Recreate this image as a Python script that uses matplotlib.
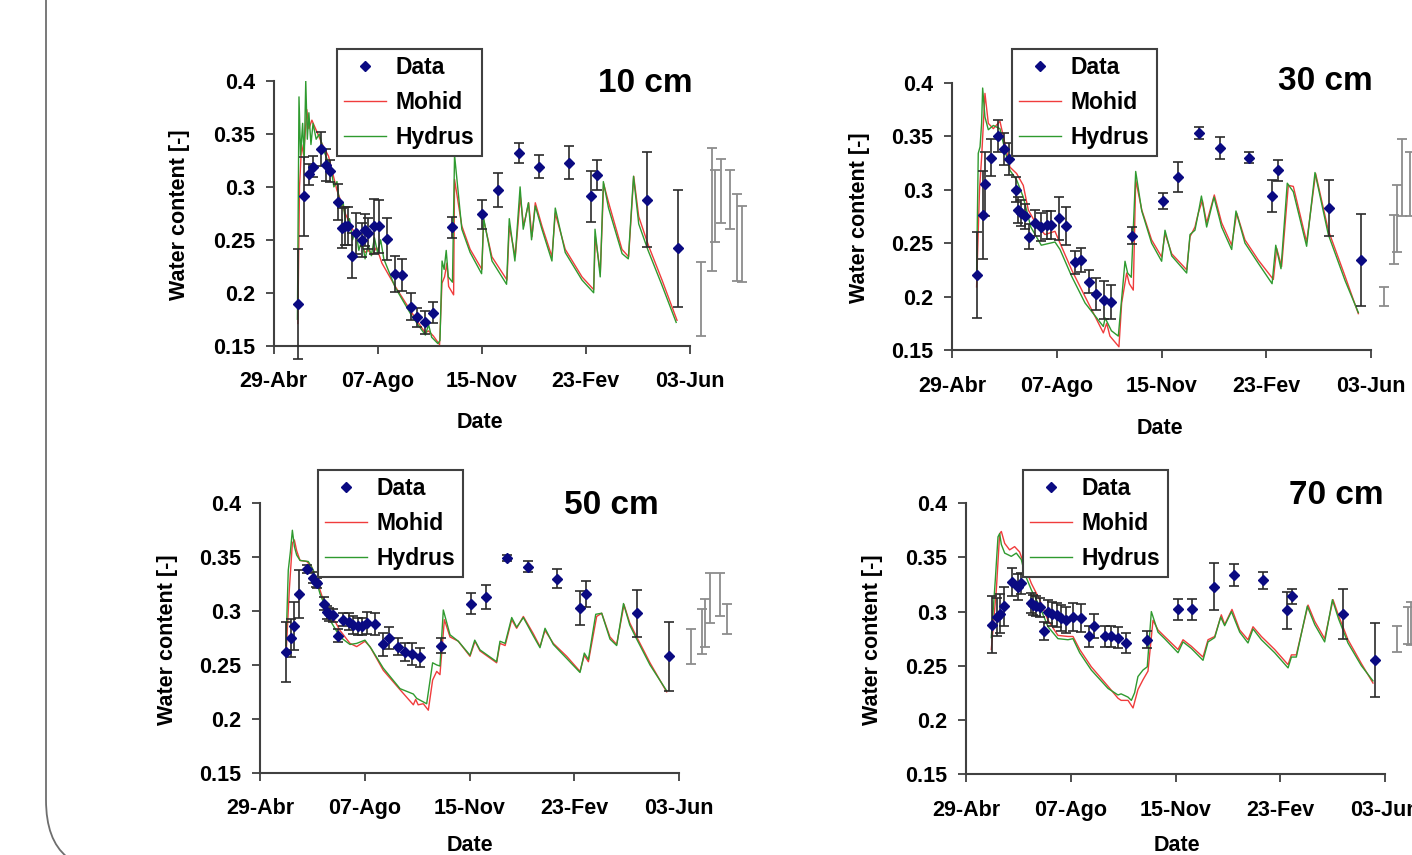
import numpy as np
import matplotlib.pyplot as plt
from matplotlib.path import Path
from matplotlib.patches import PathPatch

plt.rcParams['font.family'] = ['Liberation Sans', 'DejaVu Sans']
plt.rcParams['font.weight'] = 'bold'

# x axis: days since 29 April
date_ticks = [0, 100, 200, 300, 400]
date_labels = ['29-Abr', '07-Ago', '15-Nov', '23-Fev', '03-Jun']
theta_ticks = [0.15, 0.2, 0.25, 0.3, 0.35, 0.4]
theta_labels = ['0.15', '0.2', '0.25', '0.3', '0.35', '0.4']
depths = ['10 cm', '30 cm', '50 cm', '70 cm']

# ---- 10 cm ----
data_10_day = [24, 29, 34, 37.5, 45.5, 50, 54.5, 62, 66, 69, 71.5, 75, 79.5, 85, 88, 91, 97, 101.5,
               109, 117, 123.5, 132, 138, 146, 153, 172, 200, 216, 236, 255, 284, 305, 311, 359, 389]
data_10 = [0.189, 0.291, 0.312, 0.319, 0.336, 0.321, 0.315, 0.286, 0.261, 0.263, 0.263, 0.235, 0.256,
           0.250, 0.259, 0.256, 0.263, 0.263, 0.251, 0.218, 0.217, 0.187, 0.177, 0.172, 0.181, 0.262,
           0.274, 0.297, 0.332, 0.319, 0.323, 0.291, 0.311, 0.288, 0.242]
err_10 = [0.052, 0.037, 0.010, 0.010, 0.016, 0.015, 0.010, 0.017, 0.019, 0.018, 0.018, 0.021, 0.019,
          0.016, 0.015, 0.015, 0.026, 0.025, 0.020, 0.017, 0.015, 0.013, 0.009, 0.011, 0.010, 0.010,
          0.014, 0.016, 0.009, 0.011, 0.016, 0.024, 0.014, 0.045, 0.055]
extra_10_day = [411, 421.5, 424.5, 430, 438.5, 445.5, 450]
extra_10 = [0.194, 0.279, 0.282, 0.296, 0.288, 0.252, 0.246]
extra_err_10 = [0.035, 0.058, 0.034, 0.030, 0.028, 0.041, 0.036]
mohid_10 = [(23.4, 0.171), (25, 0.30), (27, 0.34), (29, 0.33), (32, 0.373), (34, 0.355), (36.9, 0.363),
            (46.5, 0.341), (52.9, 0.329), (60.9, 0.297), (68.9, 0.275), (76, 0.26), (80, 0.252),
            (84, 0.247), (88, 0.238), (91, 0.24), (95, 0.236), (99, 0.243), (104.2, 0.228), (117, 0.206),
            (133, 0.181), (145.8, 0.162), (149, 0.164), (153.8, 0.159), (159.6, 0.151), (161.9, 0.209),
            (164.4, 0.215), (166.7, 0.228), (168.3, 0.206), (173.1, 0.198), (174, 0.307), (181, 0.263),
            (189, 0.241), (200.3, 0.222), (201.9, 0.269), (209.9, 0.234), (224.4, 0.212), (226.6, 0.263),
            (232.4, 0.234), (237.2, 0.291), (240.4, 0.263), (245.2, 0.285), (248.4, 0.253),
            (251.6, 0.285), (258, 0.263), (267.6, 0.234), (270.8, 0.275), (280.4, 0.241), (296.5, 0.215),
            (307.7, 0.203), (309.3, 0.253), (314.1, 0.219), (317.3, 0.303), (322.1, 0.285),
            (334.9, 0.241), (341.3, 0.234), (346.2, 0.31), (351, 0.272), (360.6, 0.244), (373.4, 0.212),
            (387.8, 0.174)]
hydrus_10 = [(23, 0.175), (24.5, 0.385), (26, 0.33), (28, 0.36), (29.5, 0.325), (31, 0.40), (32.5, 0.345),
             (34, 0.37), (36, 0.34), (38, 0.36), (41, 0.345), (44, 0.35), (48, 0.335), (52, 0.325),
             (55, 0.32), (58, 0.30), (61, 0.305), (64, 0.28), (67, 0.285), (70, 0.26), (73, 0.27),
             (76, 0.25), (79, 0.26), (82, 0.24), (85, 0.25), (88, 0.232), (91, 0.245), (94, 0.235),
             (97, 0.252), (100, 0.238), (103, 0.25), (106, 0.232), (117, 0.205), (133, 0.178), (146, 0.16),
             (149, 0.17), (152, 0.158), (158, 0.152), (160, 0.155), (162, 0.23), (164, 0.222), (166, 0.24),
             (168, 0.215), (172, 0.21), (174, 0.33), (181, 0.26), (189, 0.238), (200, 0.218), (202, 0.27),
             (210, 0.23), (224, 0.208), (226.6, 0.27), (232, 0.23), (237, 0.30), (240, 0.26), (245, 0.285),
             (248, 0.25), (251.6, 0.282), (258, 0.26), (267.6, 0.23), (270.8, 0.28), (280.4, 0.238),
             (296.5, 0.212), (307.7, 0.20), (309, 0.26), (314, 0.215), (317, 0.305), (322, 0.28),
             (335, 0.237), (341, 0.232), (346, 0.31), (351, 0.265), (360, 0.24), (373, 0.208), (387, 0.172)]

# ---- 30 cm ----
data_30_day = [24, 29, 31.5, 36.5, 43.5, 49.5, 54, 61, 62.5, 65.5, 69.5, 73.5, 79, 84.5, 90, 94.5, 102,
               109, 117, 123, 131, 137, 145, 152, 172, 201.5, 215.5, 235.5, 255.5, 283.5, 305.5, 311,
               360, 390]
data_30 = [0.220, 0.276, 0.305, 0.330, 0.350, 0.338, 0.329, 0.300, 0.281, 0.278, 0.275, 0.256, 0.269,
           0.265, 0.267, 0.267, 0.273, 0.266, 0.232, 0.234, 0.214, 0.202, 0.197, 0.195, 0.257, 0.289,
           0.312, 0.353, 0.339, 0.330, 0.294, 0.318, 0.283, 0.234]
err_30 = [0.040, 0.041, 0.030, 0.017, 0.015, 0.015, 0.015, 0.012, 0.012, 0.012, 0.012, 0.012, 0.012,
          0.013, 0.013, 0.013, 0.020, 0.018, 0.011, 0.011, 0.011, 0.015, 0.018, 0.016, 0.008, 0.0075,
          0.014, 0.0055, 0.010, 0.005, 0.015, 0.010, 0.026, 0.043]
extra_30_day = [412, 422, 425, 430, 437]
extra_30 = [0.200, 0.253, 0.273, 0.311, 0.305]
extra_err_30 = [0.009, 0.023, 0.031, 0.036, 0.030]
mohid_30 = [(23.2, 0.209), (26, 0.30), (28, 0.33), (31.2, 0.390), (34.4, 0.362), (39.2, 0.357),
            (45.5, 0.364), (50.3, 0.343), (55.1, 0.321), (61.5, 0.315), (67.8, 0.304), (72.6, 0.281),
            (80.6, 0.267), (88.5, 0.258), (98.1, 0.261), (102.9, 0.250), (114, 0.225), (126.8, 0.200),
            (144.3, 0.166), (147.5, 0.175), (150.6, 0.163), (159.2, 0.153), (161.8, 0.194), (166.6, 0.222),
            (169.1, 0.212), (172.9, 0.206), (175.2, 0.309), (181, 0.281), (190.4, 0.253), (200, 0.237),
            (203.2, 0.259), (209.6, 0.240), (223.9, 0.225), (227.1, 0.256), (231.8, 0.265), (235, 0.278),
            (238.9, 0.290), (243, 0.269), (250.3, 0.295), (257.3, 0.269), (266.9, 0.248), (271.7, 0.278),
            (279.6, 0.253), (292.4, 0.234), (306.7, 0.216), (309.9, 0.245), (314.6, 0.228), (321, 0.304),
            (325.8, 0.303), (338.5, 0.251), (347.1, 0.315), (359.2, 0.262), (375.2, 0.219), (387.9, 0.184)]
hydrus_30 = [(23.2, 0.22), (24.8, 0.334), (26.5, 0.34), (28, 0.362), (29, 0.395), (31.2, 0.368),
             (34.4, 0.356), (39.2, 0.36), (45.5, 0.357), (50.3, 0.337), (55.1, 0.318), (61.5, 0.309),
             (67.8, 0.293), (75, 0.265), (85, 0.248), (98.1, 0.251), (102.9, 0.244), (114, 0.219),
             (126.8, 0.194), (144.3, 0.172), (146, 0.18), (152, 0.168), (158.6, 0.163), (165, 0.233),
             (167.5, 0.222), (171, 0.218), (175.2, 0.317), (181, 0.28), (190.4, 0.25), (200, 0.233),
             (203.2, 0.262), (209.6, 0.238), (223.9, 0.222), (227.1, 0.258), (231.8, 0.262), (235, 0.278),
             (238, 0.294), (243, 0.265), (250, 0.293), (257.3, 0.265), (266.9, 0.244), (271, 0.28),
             (279.6, 0.25), (292.4, 0.231), (305.5, 0.212), (309, 0.248), (314, 0.226), (320, 0.306),
             (325.8, 0.298), (338.5, 0.247), (346.5, 0.316), (359.2, 0.258), (375.2, 0.215), (387.9, 0.185)]

# ---- 50 cm ----
data_50_day = [25, 29.5, 32, 37, 44.5, 51, 53.5, 54.5, 61, 63.5, 66, 70, 74, 79.5, 84.5, 89, 94, 97,
               102.5, 110, 117, 123.5, 131.5, 138, 145.5, 152.5, 172.5, 201, 215.5, 235.5, 255.5, 284,
               305.5, 311, 359.5, 390.5]
data_50 = [0.262, 0.275, 0.286, 0.316, 0.339, 0.331, 0.327, 0.326, 0.307, 0.299, 0.297, 0.296, 0.277,
           0.292, 0.290, 0.287, 0.286, 0.286, 0.289, 0.288, 0.269, 0.275, 0.267, 0.262, 0.260, 0.257,
           0.268, 0.307, 0.313, 0.349, 0.341, 0.330, 0.303, 0.316, 0.298, 0.258]
err_50 = [0.028, 0.018, 0.022, 0.022, 0.004, 0.005, 0.005, 0.005, 0.006, 0.006, 0.006, 0.006, 0.006,
          0.006, 0.008, 0.008, 0.008, 0.008, 0.010, 0.010, 0.011, 0.010, 0.008, 0.008, 0.010, 0.009,
          0.007, 0.010, 0.011, 0.003, 0.005, 0.009, 0.016, 0.012, 0.022, 0.032]
extra_50_day = [411.5, 421.5, 425, 430, 439, 446]
extra_50 = [0.267, 0.281, 0.289, 0.312, 0.315, 0.293]
extra_err_50 = [0.016, 0.021, 0.022, 0.023, 0.020, 0.014]
mohid_50 = [(24.8, 0.258), (28, 0.320), (30.9, 0.363), (32.8, 0.366), (35, 0.356), (38.2, 0.347),
            (44.6, 0.346), (49.3, 0.341), (54.1, 0.329), (60.5, 0.310), (68.4, 0.296), (76.4, 0.282),
            (85.9, 0.270), (92.3, 0.267), (100.2, 0.272), (105, 0.267), (117.7, 0.245), (133.7, 0.227),
            (146.4, 0.213), (148.6, 0.218), (151, 0.213), (155.9, 0.214), (160.7, 0.208), (164.8, 0.236),
            (168.7, 0.244), (171.8, 0.241), (176, 0.292), (181.4, 0.276), (189.3, 0.272), (200.5, 0.258),
            (205.3, 0.272), (210, 0.263), (225.9, 0.252), (229.1, 0.270), (234, 0.268), (240.3, 0.292),
            (245, 0.284), (251.4, 0.295), (260.9, 0.279), (267.3, 0.267), (272.1, 0.282), (280, 0.270),
            (292.8, 0.258), (305.5, 0.244), (309.6, 0.259), (313.5, 0.253), (321.4, 0.295), (326.2, 0.298),
            (334.1, 0.276), (340.5, 0.269), (347.5, 0.306), (353, 0.289), (359.6, 0.276), (372.3, 0.252),
            (388.2, 0.225)]
hydrus_50 = [(24.8, 0.268), (27, 0.338), (29, 0.355), (30.9, 0.375), (32.8, 0.360), (35, 0.352),
             (38.2, 0.347), (46.1, 0.346), (50.9, 0.338), (57.3, 0.316), (68.4, 0.289), (76.4, 0.276),
             (85.9, 0.269), (92.3, 0.270), (100.2, 0.273), (106.3, 0.265), (117.7, 0.247), (133.7, 0.228),
             (146.4, 0.223), (149.6, 0.219), (159.1, 0.214), (164.8, 0.252), (168.7, 0.250), (171.8, 0.249),
             (175, 0.301), (181.4, 0.278), (189.3, 0.272), (200.5, 0.259), (205, 0.273), (210, 0.264),
             (225.9, 0.253), (229.1, 0.272), (234, 0.270), (240.3, 0.294), (245, 0.285), (251.4, 0.294),
             (260.9, 0.277), (267.3, 0.266), (272.1, 0.284), (280, 0.269), (292.8, 0.256), (305.5, 0.243),
             (309.6, 0.261), (313.5, 0.255), (320.5, 0.297), (326.2, 0.298), (334.1, 0.274), (340.5, 0.268),
             (347, 0.307), (353, 0.287), (359.6, 0.274), (372.3, 0.25), (388.2, 0.226)]

# ---- 70 cm ----
data_70_day = [24.5, 29.5, 32, 36.5, 43.5, 49.5, 52.5, 61.5, 63.5, 67, 70, 74.5, 78.5, 82, 87, 91, 95,
               102, 110, 117.5, 122.5, 132.5, 138, 145, 153, 172.5, 202, 216, 236.5, 256, 283.5, 306.5,
               311, 360, 390.5]
data_70 = [0.288, 0.295, 0.298, 0.305, 0.327, 0.323, 0.326, 0.308, 0.306, 0.305, 0.304, 0.282, 0.300,
           0.298, 0.297, 0.294, 0.292, 0.295, 0.294, 0.277, 0.287, 0.277, 0.277, 0.276, 0.271, 0.274,
           0.302, 0.302, 0.323, 0.334, 0.329, 0.301, 0.314, 0.298, 0.255]
err_70 = [0.026, 0.018, 0.018, 0.018, 0.013, 0.012, 0.010, 0.009, 0.009, 0.009, 0.009, 0.008, 0.011,
          0.011, 0.011, 0.012, 0.012, 0.013, 0.013, 0.010, 0.011, 0.010, 0.010, 0.010, 0.009, 0.008,
          0.010, 0.010, 0.022, 0.010, 0.008, 0.017, 0.007, 0.023, 0.034]
extra_70_day = [412, 422.5, 425]
extra_70 = [0.275, 0.287, 0.289]
extra_err_70 = [0.012, 0.017, 0.020]
mohid_70 = [(23.9, 0.265), (28.7, 0.320), (31.9, 0.372), (33.5, 0.374), (36.7, 0.363), (41.4, 0.357),
            (46.2, 0.360), (51, 0.355), (55.8, 0.342), (62.2, 0.326), (70.1, 0.311), (78.1, 0.292),
            (87.6, 0.278), (97.2, 0.277), (102, 0.277), (108.4, 0.265), (119.5, 0.249), (135.5, 0.231),
            (145, 0.220), (148, 0.218), (154.6, 0.218), (159.4, 0.211), (164.1, 0.228), (168.9, 0.237),
            (173.7, 0.245), (178.5, 0.292), (183.3, 0.283), (189.6, 0.277), (202.4, 0.265), (207.2, 0.274),
            (215.1, 0.268), (226.3, 0.258), (231.1, 0.274), (237.5, 0.277), (243.8, 0.297), (247, 0.288),
            (254, 0.302), (261.4, 0.283), (269.3, 0.274), (274.1, 0.286), (282.1, 0.277), (294.8, 0.265),
            (307.6, 0.251), (310.8, 0.260), (315.5, 0.260), (326.7, 0.306), (333.1, 0.291), (342.6, 0.275),
            (350.6, 0.311), (356, 0.296), (364.9, 0.274), (377.7, 0.252), (388.8, 0.234)]
hydrus_70 = [(23.9, 0.276), (27.7, 0.329), (30.3, 0.369), (31.9, 0.372), (33.5, 0.362), (36.7, 0.354),
             (43, 0.351), (47.8, 0.354), (52.6, 0.348), (55.8, 0.335), (62.2, 0.320), (70.1, 0.305),
             (78.1, 0.286), (87.6, 0.275), (97.2, 0.274), (102, 0.275), (108.4, 0.262), (119.5, 0.246),
             (135.5, 0.229), (145, 0.223), (148, 0.224), (154.6, 0.221), (157.8, 0.218), (160.9, 0.225),
             (164.1, 0.240), (168.9, 0.246), (173, 0.249), (176.9, 0.300), (183.3, 0.281), (189.6, 0.275),
             (202.4, 0.262), (207.2, 0.272), (215.1, 0.266), (226.3, 0.255), (231.1, 0.272), (237.5, 0.276),
             (243.2, 0.295), (247, 0.287), (253.5, 0.300), (261.4, 0.281), (269.3, 0.271), (274.1, 0.284),
             (282.1, 0.274), (294.8, 0.262), (307.6, 0.248), (310.8, 0.258), (315.5, 0.258), (326, 0.305),
             (333.1, 0.288), (342.6, 0.272), (350, 0.311), (356, 0.293), (364.9, 0.271), (377.7, 0.250),
             (388.8, 0.236)]

W, H = 1412, 855
fig = plt.figure(figsize=(W / 100, H / 100), dpi=100)


def fx(px):
    return px / W


def fy(py):
    return 1 - py / H


# layout in pixels: axes box (left, top, right, bottom), title, legend corner, ylabel, xlabel centres
layout = [
    dict(box=(273.5, 81, 689.7, 345.7), title=(645, 84), leg=(337, 49), ylab=(180, 215), xlab=(480, 422)),
    dict(box=(952.3, 82.7, 1371, 350), title=(1325, 82), leg=(1012, 49), ylab=(860, 218), xlab=(1160, 428)),
    dict(box=(260, 503.3, 679, 772.7), title=(611, 505), leg=(318, 470), ylab=(167, 640), xlab=(470, 845)),
    dict(box=(966.3, 503.3, 1384.7, 774), title=(1336, 495), leg=(1023, 470), ylab=(873, 640), xlab=(1177, 845)),
]
series = [
    (data_10_day, data_10, err_10, extra_10_day, extra_10, extra_err_10, mohid_10, hydrus_10),
    (data_30_day, data_30, err_30, extra_30_day, extra_30, extra_err_30, mohid_30, hydrus_30),
    (data_50_day, data_50, err_50, extra_50_day, extra_50, extra_err_50, mohid_50, hydrus_50),
    (data_70_day, data_70, err_70, extra_70_day, extra_70, extra_err_70, mohid_70, hydrus_70),
]

axis_col = '#404040'
fs = 15.5

for depth, lay, (dd, dv, de, xd, xv, xe, moh, hyd) in zip(depths, layout, series):
    l, t, r, b = lay['box']
    ax = fig.add_axes([fx(l), fy(b), (r - l) / W, (b - t) / H])
    ax.set_xlim(0, 400)
    ax.set_ylim(0.15, 0.4)

    md, mv = np.array(moh).T
    hd, hv = np.array(hyd).T
    ax.plot(md, mv, color='#f03c3c', lw=1.0, label='Mohid', zorder=2)
    ax.plot(hd, hv, color='#2f9a2f', lw=1.0, label='Hydrus', zorder=2.1)

    eb = ax.errorbar(dd, dv, yerr=de, fmt='none', ecolor='#2b2b2b', elinewidth=1.2,
                     capsize=3.5, capthick=1.2, zorder=3)
    eb2 = ax.errorbar(xd, xv, yerr=xe, fmt='none', ecolor='#8c8c8c', elinewidth=1.3,
                      capsize=3.5, capthick=1.3, zorder=3)
    for c in (eb, eb2):
        for art in list(c.lines[1]) + list(c.lines[2]):
            art.set_clip_on(False)
    ax.plot(dd, dv, 'D', color='#0a0a82', ms=5.5, label='Data', zorder=4)

    for s in ('top', 'right'):
        ax.spines[s].set_visible(False)
    for s in ('left', 'bottom'):
        ax.spines[s].set_color(axis_col)
        ax.spines[s].set_linewidth(1.5)

    ax.set_xticks(date_ticks)
    ax.set_xticklabels(date_labels)
    ax.set_yticks(theta_ticks)
    ax.set_yticklabels(theta_labels)
    ax.tick_params(axis='x', direction='out', length=5.5, width=1.3, color=axis_col,
                   pad=13, labelsize=fs)
    ax.tick_params(axis='y', direction='out', length=5.5, width=1.3, color=axis_col,
                   pad=8, labelsize=fs)

    ax.set_xlabel('Date', fontsize=fs, fontweight='bold')
    ax.xaxis.label.set_verticalalignment('center')
    ax.xaxis.set_label_coords(fx(lay['xlab'][0]), fy(lay['xlab'][1]), transform=fig.transFigure)
    ax.set_ylabel('Water content [-]', fontsize=fs, fontweight='bold')
    ax.yaxis.label.set_verticalalignment('center')
    ax.yaxis.set_label_coords(fx(lay['ylab'][0]), fy(lay['ylab'][1]), transform=fig.transFigure)

    fig.text(fx(lay['title'][0]), fy(lay['title'][1]), depth, fontsize=24, fontweight='bold',
             ha='center', va='center')

    h, lbl = ax.get_legend_handles_labels()
    order = [lbl.index('Data'), lbl.index('Mohid'), lbl.index('Hydrus')]
    leg = ax.legend([h[i] for i in order], [lbl[i] for i in order], loc='upper left',
                    bbox_to_anchor=(fx(lay['leg'][0]), fy(lay['leg'][1])),
                    bbox_transform=fig.transFigure, borderaxespad=0, fancybox=False,
                    edgecolor=axis_col, framealpha=1, prop=dict(weight='bold', size=16.5),
                    labelspacing=0.52, handlelength=1.8, handletextpad=0.45, borderpad=0.32)
    leg.get_frame().set_linewidth(1.5)

# rounded slide frame on the left edge
frame = Path([(fx(46), fy(-2)), (fx(46), fy(800)), (fx(46), fy(840)), (fx(67), fy(857))],
             [Path.MOVETO, Path.LINETO, Path.CURVE3, Path.CURVE3])
fig.add_artist(PathPatch(frame, fill=False, edgecolor='#6e6e6e', lw=1.3,
                         transform=fig.transFigure))

fig.savefig('out.png', dpi=100)
